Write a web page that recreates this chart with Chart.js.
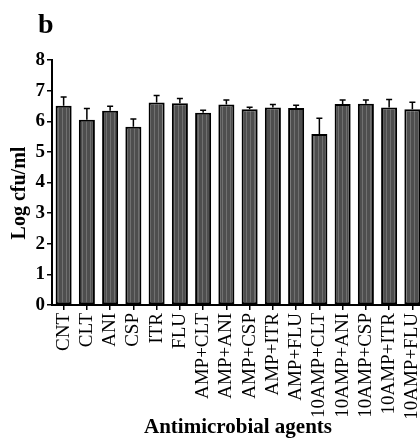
<!DOCTYPE html>
<html>
<head>
<meta charset="utf-8">
<script src="https://cdn.jsdelivr.net/npm/chart.js@4/dist/chart.umd.min.js"></script>
<style>
  html, body { margin: 0; padding: 0; overflow: hidden; background: #fff; }
  #wrap { width: 424px; height: 446px; }
</style>
</head>
<body>
<div id="wrap"><canvas id="cfuChart"></canvas></div>
<script>
const agents = ['CNT', 'CLT', 'ANI', 'CSP', 'ITR', 'FLU',
  'AMP+CLT', 'AMP+ANI', 'AMP+CSP', 'AMP+ITR', 'AMP+FLU',
  '10AMP+CLT', '10AMP+ANI', '10AMP+CSP', '10AMP+ITR', '10AMP+FLU'];
const logCfu = [6.51, 6.05, 6.34, 5.82, 6.61, 6.59, 6.28, 6.55, 6.39, 6.45, 6.43, 5.58, 6.56, 6.57, 6.45, 6.39];
const errors = [0.28, 0.37, 0.15, 0.25, 0.23, 0.15, 0.08, 0.14, 0.07, 0.10, 0.09, 0.52, 0.13, 0.12, 0.26, 0.23];
const yTicks = [0, 1, 2, 3, 4, 5, 6, 7, 8];

const serif = "'Liberation Serif', 'DejaVu Serif', serif";

// striped grey fill like the original bars
function stripePattern() {
  const c = document.createElement('canvas');
  c.width = 4; c.height = 4;
  const g = c.getContext('2d');
  g.fillStyle = '#4e4e4e';
  g.fillRect(0, 0, 4, 4);
  g.fillStyle = '#707070';
  g.fillRect(2, 0, 1, 4);
  return g.createPattern(c, 'repeat');
}

const errorBars = {
  id: 'errorBars',
  afterDatasetsDraw(chart) {
    const ctx = chart.ctx;
    const y = chart.scales.y;
    const meta = chart.getDatasetMeta(0);
    ctx.save();
    ctx.strokeStyle = '#000';
    ctx.lineWidth = 1.5;
    meta.data.forEach((bar, i) => {
      const top = y.getPixelForValue(logCfu[i] + errors[i]);
      const base = y.getPixelForValue(logCfu[i]);
      ctx.beginPath();
      ctx.moveTo(bar.x, base);
      ctx.lineTo(bar.x, top);
      ctx.moveTo(bar.x - 3, top);
      ctx.lineTo(bar.x + 3, top);
      ctx.stroke();
    });
    ctx.restore();
  }
};

// panel letter + y title (sits a bit below the axis centre in the original)
const extraText = {
  id: 'extraText',
  afterDraw(chart) {
    const ctx = chart.ctx;
    ctx.save();
    ctx.fillStyle = '#000';
    ctx.font = 'bold 28px ' + serif;
    ctx.textBaseline = 'alphabetic';
    ctx.fillText('b', 38, 33);

    ctx.translate(25, 193);
    ctx.rotate(-Math.PI / 2);
    ctx.font = 'bold 20px ' + serif;
    ctx.textAlign = 'center';
    ctx.fillText('Log cfu/ml', 0, 0);
    ctx.restore();
  }
};

new Chart(document.getElementById('cfuChart'), {
  type: 'bar',
  data: {
    labels: agents,
    datasets: [{
      data: logCfu,
      backgroundColor: stripePattern(),
      borderColor: '#000',
      borderWidth: 2,
      borderSkipped: false,
      barPercentage: 0.69,
      categoryPercentage: 1
    }]
  },
  options: {
    responsive: true,
    maintainAspectRatio: false,
    animation: false,
    layout: { padding: { top: 60, right: 0, left: 0, bottom: 0 } },
    plugins: {
      legend: { display: false },
      tooltip: { enabled: false }
    },
    scales: {
      x: {
        grid: { drawOnChartArea: false, color: '#000', lineWidth: 1.5, tickLength: 5, offset: false },
        border: { color: '#000', width: 2 },
        ticks: {
          color: '#000',
          font: { family: serif, size: 19 },
          minRotation: 90,
          maxRotation: 90,
          padding: 3,
          autoSkip: false
        },
        title: {
          display: true,
          text: 'Antimicrobial agents',
          color: '#000',
          font: { family: serif, size: 21, weight: 'bold' },
          padding: { top: 0, bottom: 6 }
        },
        afterFit(scale) {
          scale.height = 141;
          scale.paddingLeft = 0;
          scale.paddingRight = 0;
        }
      },
      y: {
        min: 0,
        max: 8,
        afterBuildTicks(scale) { scale.ticks = yTicks.map(v => ({ value: v })); },
        grid: { drawOnChartArea: false, color: '#000', lineWidth: 1.5, tickLength: 5 },
        border: { color: '#000', width: 2 },
        ticks: {
          color: '#000',
          font: { family: serif, size: 19, weight: 'bold' },
          padding: 2
        },
        afterFit(scale) { scale.width = 52; }
      }
    }
  },
  plugins: [errorBars, extraText]
});
</script>
</body>
</html>
